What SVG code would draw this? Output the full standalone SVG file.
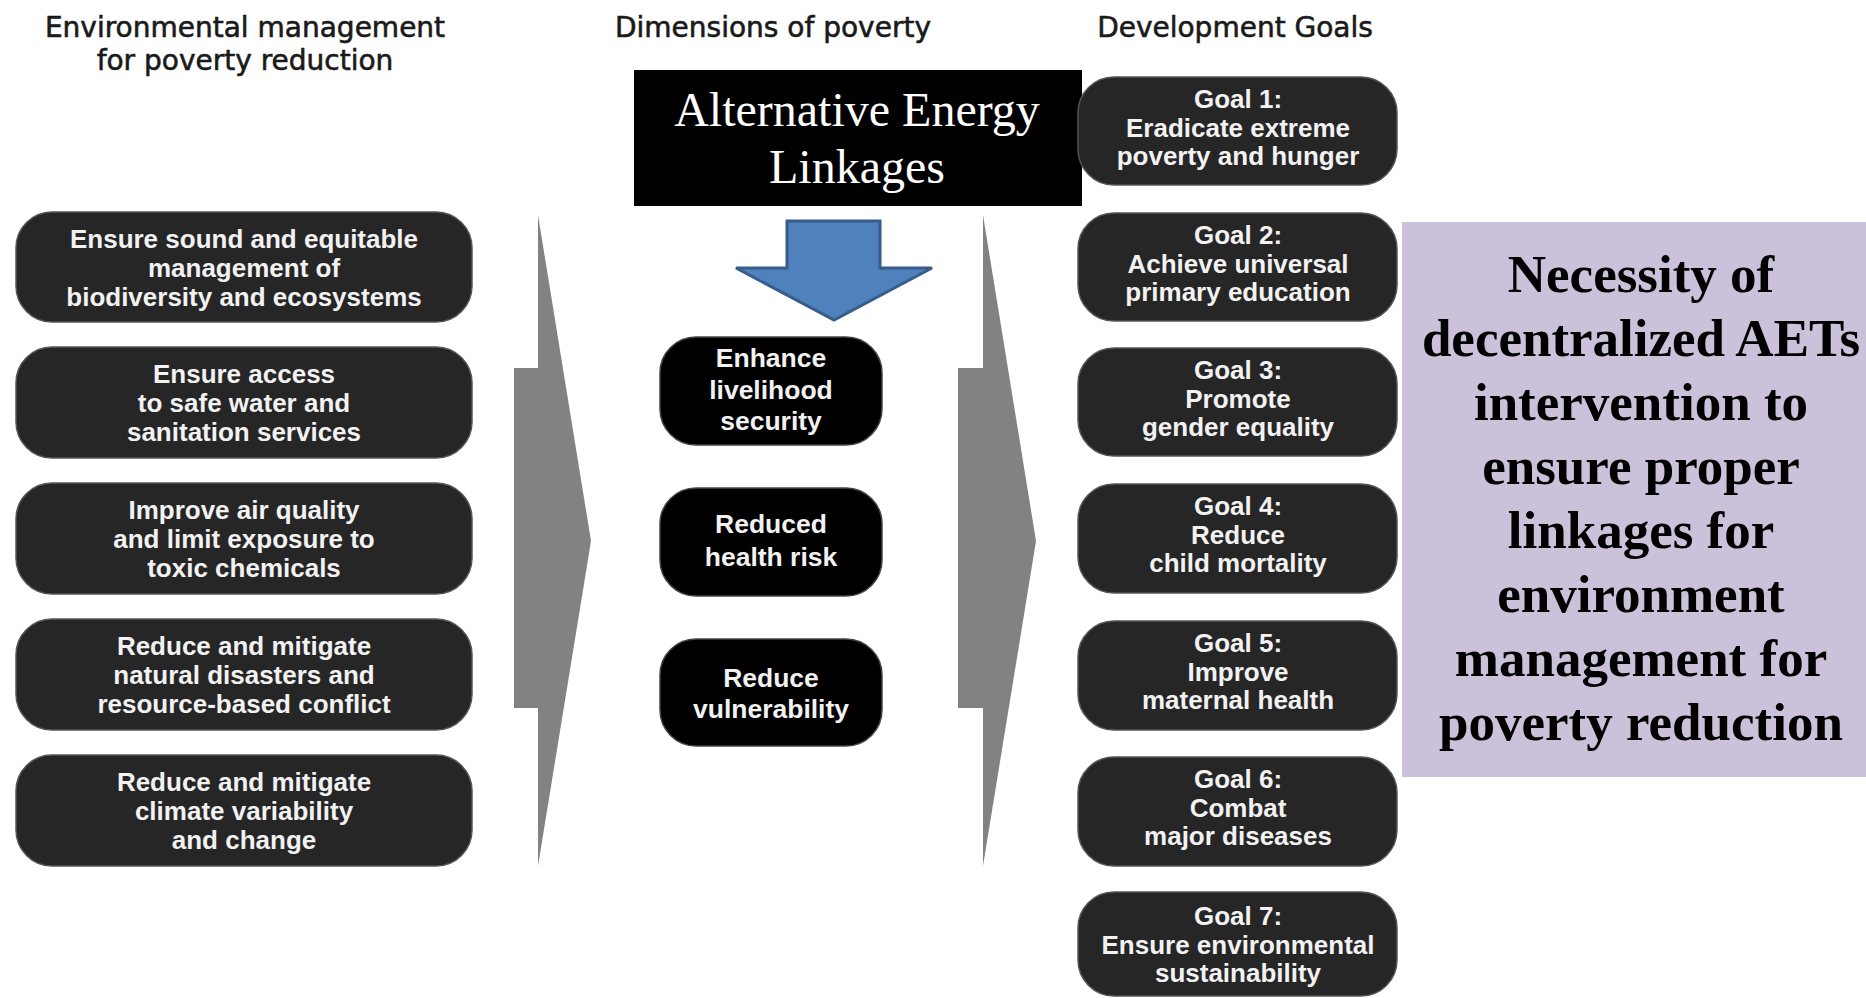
<svg xmlns="http://www.w3.org/2000/svg" width="1866" height="998" viewBox="0 0 1866 998">
<style>
.hdr{font-family:"DejaVu Sans","Liberation Sans",sans-serif;font-size:28px;fill:#1a1a1a;stroke:#1a1a1a;stroke-width:0.6;text-anchor:middle}
.box{fill:#262626;stroke:#555;stroke-width:1.5}
.mbox{fill:#000;stroke:#444;stroke-width:1.5}
.bt{font-family:"Liberation Sans",Arial,sans-serif;font-weight:700;font-size:25px;fill:#f2f2f2;text-anchor:middle}
.gray{fill:#828282}
.serif{font-family:"Liberation Serif","Times New Roman",serif;text-anchor:middle}
</style>
<rect width="1866" height="998" fill="#fff"/>

<g id="headers">
<text class="hdr" x="245" y="37">Environmental management</text>
<text class="hdr" x="245" y="70">for poverty reduction</text>
<text class="hdr" x="773" y="37">Dimensions of poverty</text>
<text class="hdr" x="1235" y="37">Development Goals</text>
</g>

<g id="connectors">
<polygon class="gray" points="538,215 591,541 538,866 538,708 514,708 514,368 538,368"/>
<polygon class="gray" points="983,215 1036,541 983,866 983,708 958,708 958,368 983,368"/>
<polygon points="787,221 880,221 880,268 932,268 834,320 736,268 787,268" fill="#4f81bd" stroke="#385d8a" stroke-width="3" stroke-linejoin="miter"/>
</g>

<g id="env1"><rect class="box" x="16" y="212" width="456" height="110" rx="36"/>
<g transform="translate(244,0) scale(1.04,1)"><text class="bt" x="0" y="248">Ensure sound and equitable</text><text class="bt" x="0" y="277">management of</text><text class="bt" x="0" y="306">biodiversity and ecosystems</text></g></g>
<g id="env2"><rect class="box" x="16" y="347" width="456" height="111" rx="36"/>
<g transform="translate(244,0) scale(1.04,1)"><text class="bt" x="0" y="383">Ensure access</text><text class="bt" x="0" y="412">to safe water and</text><text class="bt" x="0" y="441">sanitation services</text></g></g>
<g id="env3"><rect class="box" x="16" y="483" width="456" height="111" rx="36"/>
<g transform="translate(244,0) scale(1.04,1)"><text class="bt" x="0" y="519">Improve air quality</text><text class="bt" x="0" y="548">and limit exposure to</text><text class="bt" x="0" y="577">toxic chemicals</text></g></g>
<g id="env4"><rect class="box" x="16" y="619" width="456" height="111" rx="36"/>
<g transform="translate(244,0) scale(1.04,1)"><text class="bt" x="0" y="655">Reduce and mitigate</text><text class="bt" x="0" y="684">natural disasters and</text><text class="bt" x="0" y="713">resource-based conflict</text></g></g>
<g id="env5"><rect class="box" x="16" y="755" width="456" height="111" rx="36"/>
<g transform="translate(244,0) scale(1.04,1)"><text class="bt" x="0" y="791">Reduce and mitigate</text><text class="bt" x="0" y="820">climate variability</text><text class="bt" x="0" y="849">and change</text></g></g>

<g id="aelabel"><rect x="634" y="70" width="448" height="136" fill="#000"/>
<text class="serif" x="857" y="126" font-size="48" fill="#fff">Alternative Energy</text>
<text class="serif" x="857" y="183" font-size="48" fill="#fff">Linkages</text></g>

<g id="dim1"><rect class="mbox" x="660" y="337" width="222" height="108" rx="36"/>
<g transform="translate(771,0) scale(1.06,1)"><text class="bt" x="0" y="367">Enhance</text><text class="bt" x="0" y="399">livelihood</text><text class="bt" x="0" y="430">security</text></g></g>
<g id="dim2"><rect class="mbox" x="660" y="488" width="222" height="108" rx="36"/>
<g transform="translate(771,0) scale(1.06,1)"><text class="bt" x="0" y="533">Reduced</text><text class="bt" x="0" y="566">health risk</text></g></g>
<g id="dim3"><rect class="mbox" x="660" y="639" width="222" height="107" rx="36"/>
<g transform="translate(771,0) scale(1.06,1)"><text class="bt" x="0" y="687">Reduce</text><text class="bt" x="0" y="718">vulnerability</text></g></g>

<g id="goal1"><rect class="box" x="1078" y="77" width="319" height="108" rx="36"/>
<g transform="translate(1238,0) scale(1.04,1)"><text class="bt" x="0" y="108">Goal 1:</text><text class="bt" x="0" y="137">Eradicate extreme</text><text class="bt" x="0" y="165">poverty and hunger</text></g></g>
<g id="goal2"><rect class="box" x="1078" y="213" width="319" height="108" rx="36"/>
<g transform="translate(1238,0) scale(1.04,1)"><text class="bt" x="0" y="244">Goal 2:</text><text class="bt" x="0" y="273">Achieve universal</text><text class="bt" x="0" y="301">primary education</text></g></g>
<g id="goal3"><rect class="box" x="1078" y="348" width="319" height="108" rx="36"/>
<g transform="translate(1238,0) scale(1.04,1)"><text class="bt" x="0" y="379">Goal 3:</text><text class="bt" x="0" y="408">Promote</text><text class="bt" x="0" y="436">gender equality</text></g></g>
<g id="goal4"><rect class="box" x="1078" y="484" width="319" height="109" rx="36"/>
<g transform="translate(1238,0) scale(1.04,1)"><text class="bt" x="0" y="515">Goal 4:</text><text class="bt" x="0" y="544">Reduce</text><text class="bt" x="0" y="572">child mortality</text></g></g>
<g id="goal5"><rect class="box" x="1078" y="621" width="319" height="109" rx="36"/>
<g transform="translate(1238,0) scale(1.04,1)"><text class="bt" x="0" y="652">Goal 5:</text><text class="bt" x="0" y="681">Improve</text><text class="bt" x="0" y="709">maternal health</text></g></g>
<g id="goal6"><rect class="box" x="1078" y="757" width="319" height="109" rx="36"/>
<g transform="translate(1238,0) scale(1.04,1)"><text class="bt" x="0" y="788">Goal 6:</text><text class="bt" x="0" y="817">Combat</text><text class="bt" x="0" y="845">major diseases</text></g></g>
<g id="goal7"><rect class="box" x="1078" y="892" width="319" height="104" rx="36"/>
<g transform="translate(1238,0) scale(1.04,1)"><text class="bt" x="0" y="925">Goal 7:</text><text class="bt" x="0" y="954">Ensure environmental</text><text class="bt" x="0" y="982">sustainability</text></g></g>

<g id="necessity"><rect x="1402" y="222" width="464" height="555" fill="#ccc1da"/>
<g class="serif" font-size="53" font-weight="700" fill="#000">
<text x="1641" y="292">Necessity of</text>
<text x="1641" y="356">decentralized AETs</text>
<text x="1641" y="420">intervention to</text>
<text x="1641" y="484">ensure proper</text>
<text x="1641" y="548">linkages for</text>
<text x="1641" y="612">environment</text>
<text x="1641" y="676">management for</text>
<text x="1641" y="740">poverty reduction</text>
</g></g>
</svg>
